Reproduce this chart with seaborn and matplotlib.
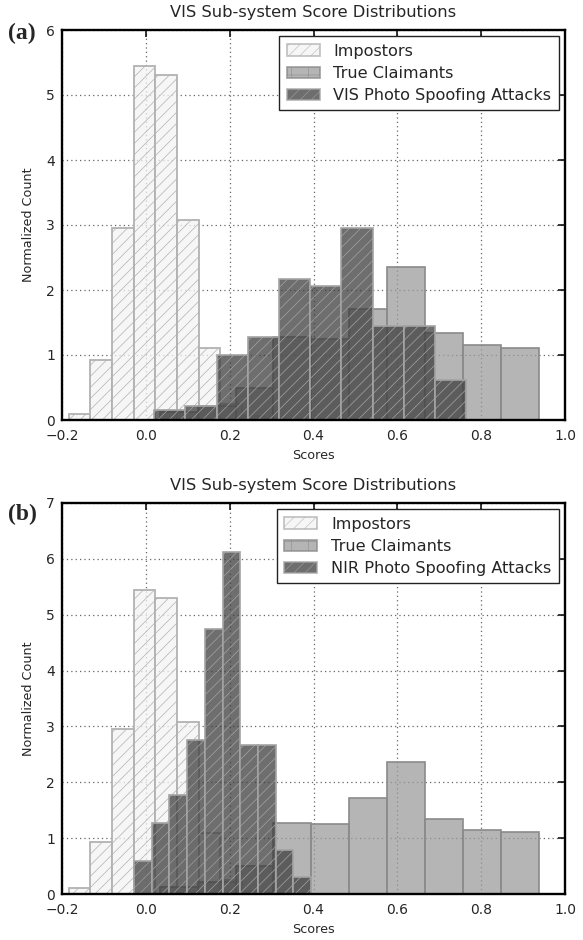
import numpy as np
import pandas as pd
import matplotlib
matplotlib.use("Agg")
import matplotlib.pyplot as plt
from matplotlib.patches import Patch
import seaborn as sns

# ---------------- data ----------------
impostor_range = (-0.184, 0.333)
impostor_heights = [0.10, 0.93, 2.95, 5.45, 5.30, 3.08, 1.10, 0.25, 0.06, 0.02]

claimant_range = (0.033, 0.938)
claimant_heights = [0.13, 0.22, 0.50, 1.28, 1.25, 1.71, 2.36, 1.34, 1.15, 1.11]

vis_spoof_range = (0.020, 0.764)
vis_spoof_heights = [0.16, 0.22, 1.00, 1.28, 2.17, 2.06, 2.95, 1.45, 1.45, 0.61]

nir_spoof_range = (-0.028, 0.394)
nir_spoof_heights = [0.59, 1.28, 1.77, 2.76, 4.74, 6.13, 2.66, 2.66, 0.78, 0.30]

panel_labels = ["(a)", "(b)"]
titles = ["VIS Sub-system Score Distributions", "VIS Sub-system Score Distributions"]
legend_labels_a = ["Impostors", "True Claimants", "VIS Photo Spoofing Attacks"]
legend_labels_b = ["Impostors", "True Claimants", "NIR Photo Spoofing Attacks"]
x_ticks = [-0.2, 0.0, 0.2, 0.4, 0.6, 0.8, 1.0]
y_max = [6, 7]

# ---------------- style ----------------
sns.set_theme(style="white")
plt.rcParams["font.family"] = ["DejaVu Sans"]
plt.rcParams["hatch.linewidth"] = 0.5

IMP = dict(color="#f3f3f3", edgecolor="#b2b2b2", alpha=0.75, hatch="///", linewidth=1.3)
TC = dict(color="#9c9c9c", edgecolor="#8a8a8a", alpha=0.75, linewidth=1.2)
SP = dict(color="#3e3e3e", edgecolor="#a4a4a4", alpha=0.75, hatch="///", linewidth=1.2)


def binned(rng, heights):
    edges = np.linspace(rng[0], rng[1], len(heights) + 1)
    centers = (edges[:-1] + edges[1:]) / 2
    return pd.DataFrame({"x": centers, "w": heights}), [float(e) for e in edges]


fig = plt.figure(figsize=(5.83, 9.40), dpi=100)
W, H = 583.0, 940.0
ax1 = fig.add_axes([62 / W, 1 - 420 / H, (565 - 62) / W, (420 - 30) / H])
ax2 = fig.add_axes([62 / W, 1 - 894 / H, (565 - 62) / W, (894 - 503) / H])

panels = [
    (ax1, vis_spoof_range, vis_spoof_heights, legend_labels_a),
    (ax2, nir_spoof_range, nir_spoof_heights, legend_labels_b),
]

for i, (ax, srng, sh, labs) in enumerate(panels):
    ax.set_axisbelow(True)
    ax.grid(True, color="#666666", linestyle=(0, (1, 2.5)), linewidth=0.9)
    for rng, hts, sty in [(impostor_range, impostor_heights, IMP),
                          (claimant_range, claimant_heights, TC),
                          (srng, sh, SP)]:
        df, edges = binned(rng, hts)
        sns.histplot(data=df, x="x", weights="w", bins=edges, ax=ax,
                     stat="count", element="bars", fill=True, **sty)
    ax.set_xlim(-0.2, 1.0)
    ax.set_ylim(0, y_max[i])
    ax.set_xticks(x_ticks)
    ax.set_xticklabels([f"{t:.1f}".replace("-", "\u2212") for t in x_ticks])
    ax.set_yticks(range(0, y_max[i] + 1))
    ax.tick_params(direction="in", top=True, right=True, length=5, width=1.1,
                   labelsize=10, color="black")
    ax.tick_params(axis="x", pad=6.5)
    ax.tick_params(axis="y", pad=5)
    for s in ax.spines.values():
        s.set_visible(True)
        s.set_color("black")
        s.set_linewidth(1.7)
    ax.set_xlabel("Scores", fontsize=9.2, labelpad=4.5)
    ax.set_ylabel("Normalized Count", fontsize=9.2, labelpad=8)
    ax.set_title(titles[i], fontsize=11.7, pad=9.5)

    handles = [
        Patch(facecolor=IMP["color"], edgecolor=IMP["edgecolor"], alpha=0.75, hatch="///", linewidth=1.3),
        Patch(facecolor=TC["color"], edgecolor=TC["edgecolor"], alpha=0.75, hatch="+", linewidth=1.3),
        Patch(facecolor=SP["color"], edgecolor=SP["edgecolor"], alpha=0.75, hatch="///", linewidth=1.3),
    ]
    leg = ax.legend(handles, labs, loc="upper right", fontsize=11.6, fancybox=False,
                    framealpha=1, edgecolor="#222222", handlelength=2.05,
                    borderaxespad=0.4, labelspacing=0.45, handletextpad=0.85,
                    borderpad=0.45)
    leg.get_frame().set_linewidth(1.0)

fig.text(22 / W, 1 - 33 / H, panel_labels[0], fontsize=17, fontweight="bold",
         family=["Liberation Serif", "DejaVu Serif"], ha="center", va="center")
fig.text(22 / W, 1 - 514 / H, panel_labels[1], fontsize=17, fontweight="bold",
         family=["Liberation Serif", "DejaVu Serif"], ha="center", va="center")

fig.savefig("out.png", dpi=100)
